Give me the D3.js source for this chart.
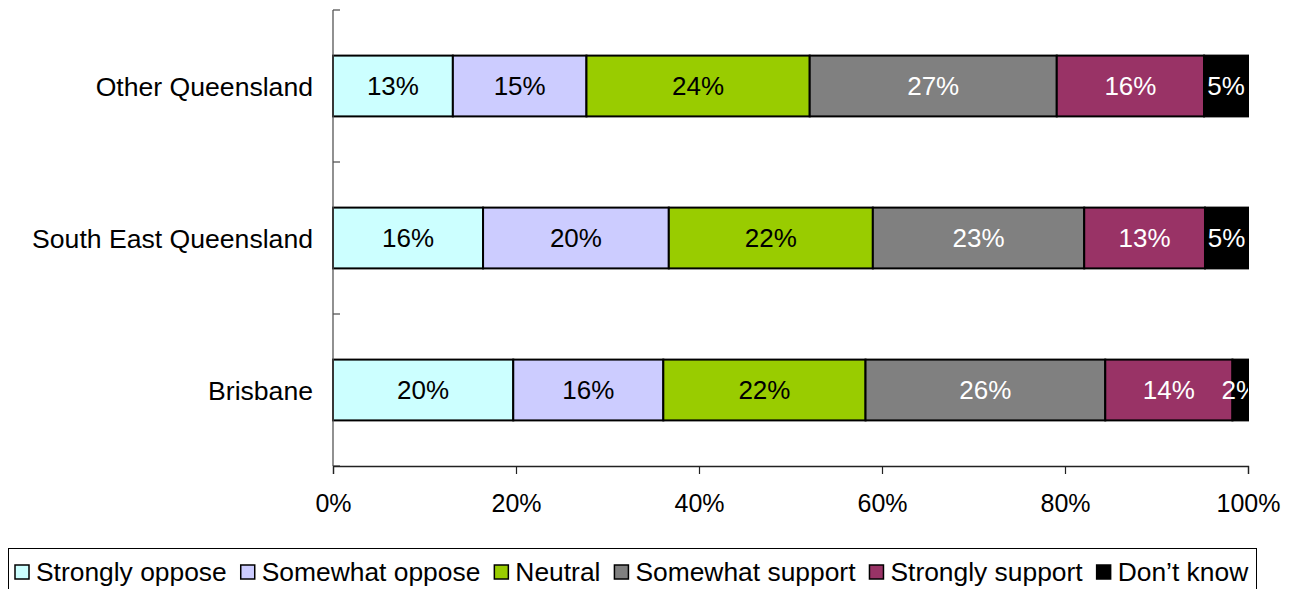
<!DOCTYPE html>
<html>
<head>
<meta charset="utf-8">
<script src="https://cdn.jsdelivr.net/npm/d3@7"></script>
<style>
  body { margin: 0; background: #fff; }
  svg { display: block; font-family: "Liberation Sans", Arial, sans-serif; }
</style>
</head>
<body>
<div id="chart"></div>
<script>
// categories top to bottom
const regions = ['Other Queensland', 'South East Queensland', 'Brisbane'];
const responses = ['Strongly oppose', 'Somewhat oppose', 'Neutral', 'Somewhat support', 'Strongly support', 'Don\u2019t know'];
const colours = ['#ccffff', '#ccccff', '#99cc00', '#808080', '#993366', '#000000'];
const labelColours = ['#000', '#000', '#000', '#fff', '#fff', '#fff'];

// shares (%) per region, in response order
const otherQld = [13.1, 14.6, 24.4, 27.0, 16.1, 4.8];
const seQld = [16.4, 20.3, 22.3, 23.1, 13.2, 4.7];
const brisbane = [19.7, 16.4, 22.1, 26.2, 13.9, 1.7];
const xTicks = [0, 0.2, 0.4, 0.6, 0.8, 1];

const values = { 'Other Queensland': otherQld, 'South East Queensland': seQld, 'Brisbane': brisbane };

const width = 1295, height = 589;
const svg = d3.select('#chart').append('svg')
    .attr('width', width)
    .attr('height', height);

const x = d3.scaleLinear().domain([0, 1]).range([333, 1248]);
const y = d3.scaleBand().domain(regions).range([10, 466])
    .paddingInner(0.6).paddingOuter(0.3);

// stacked rows
const rows = regions.map(r => {
    const vals = values[r];
    const total = d3.sum(vals);
    let acc = 0;
    return vals.map((v, i) => {
        const seg = { region: r, i, v, x0: acc / total, x1: (acc + v) / total };
        acc += v;
        return seg;
    });
});

svg.append('clipPath').attr('id', 'plotclip')
    .append('rect').attr('x', x(0)).attr('y', 0).attr('width', x(1) - x(0)).attr('height', 470);

const g = svg.append('g');
rows.forEach(row => {
    g.selectAll(null)
        .data(row)
        .enter()
        .append('rect')
        .attr('x', d => x(d.x0))
        .attr('y', d => y(d.region))
        .attr('width', d => x(d.x1) - x(d.x0))
        .attr('height', y.bandwidth())
        .attr('fill', d => colours[d.i])
        .attr('stroke', '#000')
        .attr('stroke-width', 2);

    g.append('g').attr('clip-path', 'url(#plotclip)')
        .selectAll('text')
        .data(row)
        .enter()
        .append('text')
        .attr('x', d => (x(d.x0) + x(d.x1)) / 2)
        .attr('y', d => y(d.region) + y.bandwidth() / 2)
        .attr('dy', '0.36em')
        .attr('text-anchor', 'middle')
        .attr('font-size', 26)
        .attr('fill', d => labelColours[d.i])
        .text(d => Math.round(d.v) + '%');
});

// y axis: line, ticks pointing inward, labels
const yAxis = svg.append('g');
yAxis.append('line')
    .attr('x1', x(0)).attr('x2', x(0))
    .attr('y1', 10).attr('y2', 466)
    .attr('stroke', '#555').attr('stroke-width', 1.3);
const step = y.step();
yAxis.selectAll('.yt')
    .data(d3.range(regions.length + 1))
    .enter()
    .append('line')
    .attr('x1', x(0)).attr('x2', x(0) + 7)
    .attr('y1', i => 10 + i * step).attr('y2', i => 10 + i * step)
    .attr('stroke', '#555').attr('stroke-width', 1.3);
yAxis.selectAll('text')
    .data(regions)
    .enter()
    .append('text')
    .attr('x', 313)
    .attr('y', d => y(d) + y.bandwidth() / 2)
    .attr('dy', '0.36em')
    .attr('text-anchor', 'end')
    .attr('font-size', 26.6)
    .attr('fill', '#000')
    .text(d => d);

// x axis
const xAxis = svg.append('g')
    .attr('transform', 'translate(0,466)')
    .call(d3.axisBottom(x).tickValues(xTicks).tickFormat(d3.format('.0%')).tickSize(8).tickPadding(20));
xAxis.select('.domain').attr('stroke', '#222').attr('stroke-width', 1.3);
xAxis.selectAll('.tick line').attr('stroke', '#222').attr('stroke-width', 1.2);
xAxis.selectAll('.tick text')
    .attr('font-size', 25)
    .attr('font-family', '"Liberation Sans", Arial, sans-serif')
    .attr('fill', '#000');

// legend
const legend = svg.append('g');
legend.append('rect')
    .attr('x', 8.5).attr('y', 548.5)
    .attr('width', 1248).attr('height', 60)
    .attr('fill', '#fff').attr('stroke', '#000').attr('stroke-width', 1);
let lx = 15;
responses.forEach((r, i) => {
    legend.append('rect')
        .attr('x', lx).attr('y', 565)
        .attr('width', 14).attr('height', 14)
        .attr('fill', colours[i])
        .attr('stroke', '#000').attr('stroke-width', 1.5);
    const t = legend.append('text')
        .attr('x', lx + 21)
        .attr('y', 581)
        .attr('font-size', 26.4)
        .attr('fill', '#000')
        .text(r);
    lx += 21 + t.node().getComputedTextLength() + 14;
});
</script>
</body>
</html>
